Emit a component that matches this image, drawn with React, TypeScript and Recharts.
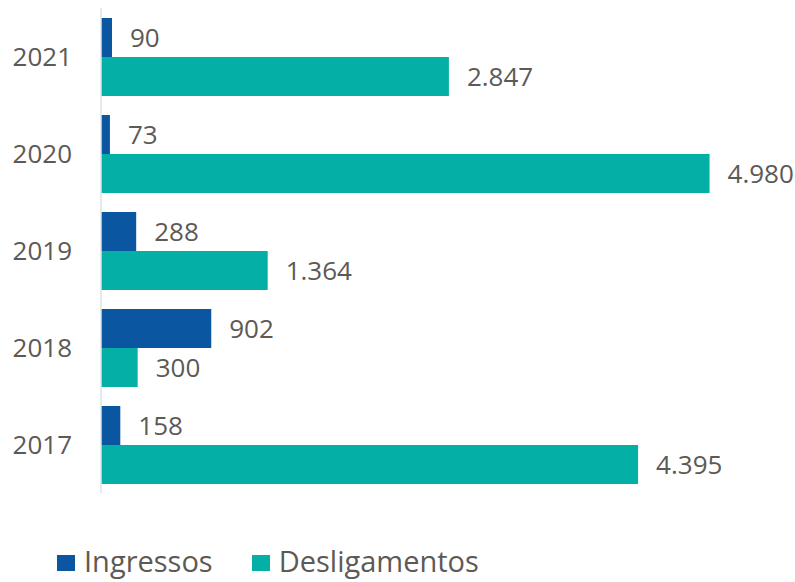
import { Bar, BarChart, LabelList, XAxis, YAxis } from "recharts";

const years = ["2021", "2020", "2019", "2018", "2017"];
const ingressos = [90, 73, 288, 902, 158];
const desligamentos = [2847, 4980, 1364, 300, 4395];

const BLUE = "#0b56a0";
const TEAL = "#04b0a5";
const TEXT = "#5d5955";
const FONT = "'Open Sans', sans-serif";

const data = years.map((year, i) => ({
  year,
  ingressos: ingressos[i],
  desligamentos: desligamentos[i],
}));

const fmt = (v: number) => v.toLocaleString("pt-BR");

const legendItems = [
  { label: "Ingressos", color: BLUE },
  { label: "Desligamentos", color: TEAL },
];

function ChartLegend() {
  return (
    <div
      style={{
        position: "absolute",
        left: 57,
        top: 546,
        height: 30,
        display: "flex",
        alignItems: "center",
        fontFamily: FONT,
      }}
    >
      {legendItems.map((it) => (
        <div
          key={it.label}
          style={{ display: "flex", alignItems: "center", marginRight: 39 }}
        >
          <span
            style={{
              display: "inline-block",
              width: 18,
              height: 16,
              background: it.color,
              marginRight: 9,
              marginTop: 4,
            }}
          />
          <span style={{ color: TEXT, fontSize: 29, lineHeight: "30px" }}>
            {it.label}
          </span>
        </div>
      ))}
    </div>
  );
}

export default function App() {
  return (
    <div
      style={{
        position: "absolute",
        left: 0,
        top: 0,
        width: 795,
        height: 582,
        background: "#fff",
      }}
    >
      <BarChart
        width={795}
        height={582}
        data={data}
        layout="vertical"
        margin={{ top: 8, right: 83, left: 0, bottom: 89 }}
        barCategoryGap={10}
        barGap={0}
      >
        <XAxis type="number" domain={[0, 5000]} hide />
        <YAxis
          type="category"
          dataKey="year"
          width={101}
          tickLine={false}
          tickMargin={23}
          axisLine={{ stroke: "#dde3e6", strokeWidth: 1.5 }}
          tick={{ fill: TEXT, fontSize: 26, fontFamily: FONT }}
        />
        <Bar dataKey="ingressos" fill={BLUE} isAnimationActive={false}>
          <LabelList
            dataKey="ingressos"
            position="right"
            offset={18}
            formatter={(v: any) => fmt(Number(v))}
            style={{ fill: TEXT, fontSize: 26, fontFamily: FONT }}
          />
        </Bar>
        <Bar dataKey="desligamentos" fill={TEAL} isAnimationActive={false}>
          <LabelList
            dataKey="desligamentos"
            position="right"
            offset={18}
            formatter={(v: any) => fmt(Number(v))}
            style={{ fill: TEXT, fontSize: 26, fontFamily: FONT }}
          />
        </Bar>
      </BarChart>
      <ChartLegend />
    </div>
  );
}
